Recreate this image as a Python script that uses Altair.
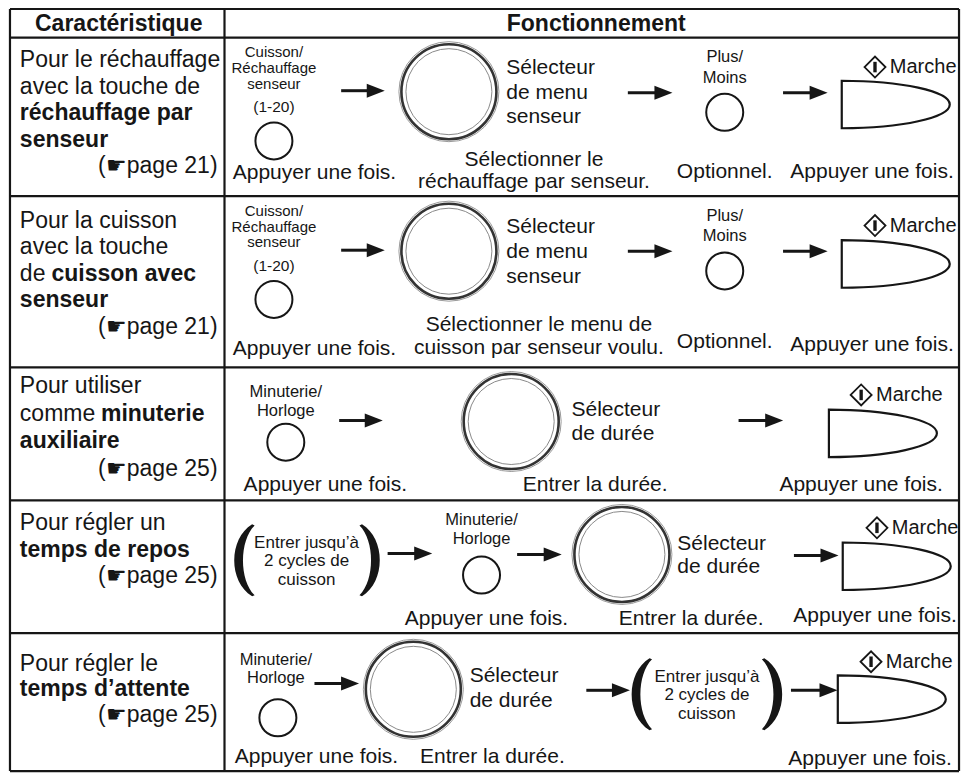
import altair as alt
import pandas as pd

# ------------------------------------------------------------------
# Content (texts of the table)
# ------------------------------------------------------------------
header_texts = ["Caractéristique", "Fonctionnement"]

# left column: (text, bold)
feature_row1 = [("Pour le réchauffage", False), ("avec la touche de", False),
                ("réchauffage par", True), ("senseur", True)]
feature_row2 = [("Pour la cuisson", False), ("avec la touche", False),
                ("de ", False), ("cuisson avec", True), ("senseur", True)]
feature_row3 = [("Pour utiliser", False), ("comme ", False), ("minuterie", True),
                ("auxiliaire", True)]
feature_row4 = [("Pour régler un", False), ("temps de repos", True)]
feature_row5 = [("Pour régler le", False), ("temps d\u2019attente", True)]
page_refs = ["(\u261bpage 21)", "(\u261bpage 21)", "(\u261bpage 25)",
             "(\u261bpage 25)", "(\u261bpage 25)"]

key_sensor = ["Cuisson/", "Réchauffage", "senseur"]
key_sensor_range = "(1-20)"
key_plus = ["Plus/", "Moins"]
key_timer = ["Minuterie/", "Horloge"]
dial_menu = ["Sélecteur", "de menu", "senseur"]
dial_time = ["Sélecteur", "de durée"]
start_label = "Marche"
press_once = "Appuyer une fois."
optional = "Optionnel."
enter_time = "Entrer la durée."
select_reheat = ["Sélectionner le", "réchauffage par senseur."]
select_cook = ["Sélectionner le menu de", "cuisson par senseur voulu."]
stages = ["Entrer jusqu\u2019à", "2 cycles de", "cuisson"]

# ------------------------------------------------------------------
# Layout (reference pixel coordinates)
# ------------------------------------------------------------------
TABLE = dict(left=5, right=965, top=5, bottom=779, split=222)
ROW_LINES = [34, 195, 369, 504, 639]

FEAT_X, FEAT_BOLD_OFFSET, PAGE_X = 15, {"de ": 47, "comme ": 97}, 215
feat_y = [[57, 84, 111, 138], [220, 247, 274, 274, 301], [388, 416, 416, 444],
          [527, 555], [670, 696]]
page_y = [164, 328, 472, 581, 722]

small_circles = [(272, 139), (272, 300), (284, 445), (482, 580), (276, 725),
                 (728, 110), (728, 271)]
dials = [(449, 89), (449, 251), (512, 424), (624, 559), (413, 696)]
buttons = [(901, 102), (901, 264), (888, 436), (902, 571), (897, 706)]
diamonds = [(880, 64), (880, 225), (866, 397), (882, 532), (876, 668)]
arrows = [(340, 384, 88), (630, 675, 90), (787, 832, 90),
          (340, 384, 250), (630, 675, 251), (787, 832, 251),
          (338, 382, 423), (742, 787, 423),
          (387, 432, 558), (518, 563, 559), (798, 843, 560),
          (313, 358, 690), (588, 632, 697), (795, 842, 697)]
parens_open = [(239, 565), (641, 701)]
parens_close = [(372, 565), (779, 701)]

FONT = "Liberation Sans, Arial, Helvetica, sans-serif"
INK = "#161616"

XS = alt.Scale(domain=[3, 967], nice=False, zero=False)
YS = alt.Scale(domain=[4, 781], nice=False, zero=False, reverse=True)


def pos(**kw):
    return dict(x=alt.X("x:Q", scale=XS, axis=None),
                y=alt.Y("y:Q", scale=YS, axis=None), **kw)


def text_layer(items, size, weight="normal", align="center", font=FONT):
    df = pd.DataFrame(items, columns=["t", "x", "y"])
    return alt.Chart(df).mark_text(fontSize=size, fontWeight=weight, align=align,
                                   baseline="middle", font=font, color=INK
                                   ).encode(**pos(text="t:N"))


def sym_layer(points, shape, size, stroke=INK, sw=2.0, filled=False):
    df = pd.DataFrame(points, columns=["x", "y"])
    if filled:
        mk = alt.Chart(df).mark_point(shape=shape, size=size, filled=True,
                                      color=stroke, opacity=1, strokeWidth=0)
    else:
        mk = alt.Chart(df).mark_point(shape=shape, size=size, filled=False,
                                      color=stroke, opacity=1, strokeWidth=sw)
    return mk.encode(**pos())


layers = []

# ---- grid -------------------------------------------------------
grid = [(TABLE["left"], TABLE["top"], TABLE["right"], TABLE["top"]),
        (TABLE["left"], TABLE["bottom"], TABLE["right"], TABLE["bottom"]),
        (TABLE["left"], TABLE["top"], TABLE["left"], TABLE["bottom"]),
        (TABLE["right"], TABLE["top"], TABLE["right"], TABLE["bottom"]),
        (TABLE["split"], TABLE["top"], TABLE["split"], TABLE["bottom"])]
grid += [(TABLE["left"], y, TABLE["right"], y) for y in ROW_LINES]
gdf = pd.DataFrame(grid, columns=["x", "y", "x2", "y2"])
layers.append(alt.Chart(gdf).mark_rule(color=INK, strokeWidth=2.2).encode(
    **pos(x2="x2:Q", y2="y2:Q")))

# ---- header -----------------------------------------------------
layers.append(text_layer([(header_texts[0], 115, 20), (header_texts[1], 598, 20)],
                         23, "bold"))

# ---- left column -----------------------------------------------
feat_norm, feat_bold = [], []
for rows, ys in zip([feature_row1, feature_row2, feature_row3, feature_row4,
                     feature_row5], feat_y):
    for (txt, bold), y in zip(rows, ys):
        x = FEAT_X
        if bold:
            prev = [t for (t, b), yy in zip(rows, ys) if yy == y and not b]
            if prev:
                x = FEAT_BOLD_OFFSET[prev[0]]
        (feat_bold if bold else feat_norm).append((txt, x, y))
layers.append(text_layer(feat_norm, 23, "normal", "left"))
layers.append(text_layer(feat_bold, 23, "bold", "left"))
layers.append(text_layer([(p, PAGE_X, y) for p, y in zip(page_refs, page_y)],
                         23, "normal", "right"))

# ---- right column texts ----------------------------------------
sensor = []
for yy in ([49, 65, 81], [210, 226, 242]):
    sensor += [(t, 272, y) for t, y in zip(key_sensor, yy)]
layers.append(text_layer(sensor, 15))
layers.append(text_layer([(key_sensor_range, 272, 105),
                          (key_sensor_range, 272, 266)], 15.5))

small = [(t, 728, y) for t, y in zip(key_plus, [54, 75])]
small += [(t, 728, y) for t, y in zip(key_plus, [215, 236])]
small += [(t, 284, y) for t, y in zip(key_timer, [394, 413])]
small += [(t, 482, y) for t, y in zip(key_timer, [524, 543])]
small += [(t, 274, y) for t, y in zip(key_timer, [666, 685])]
layers.append(text_layer(small, 16.5))

stage_items = [(t, 305, y) for t, y in zip(stages, [547, 566, 585])]
stage_items += [(t, 710, y) for t, y in zip(stages, [683, 702, 721])]
layers.append(text_layer(stage_items, 17))

main = [(press_once, 313, 172), (optional, 728, 171), (press_once, 877, 171),
        (select_reheat[0], 535, 158), (select_reheat[1], 535, 181),
        (press_once, 313, 350), (optional, 728, 343), (press_once, 877, 346),
        (select_cook[0], 540, 326), (select_cook[1], 540, 349),
        (press_once, 324, 488), (enter_time, 597, 488), (press_once, 866, 488),
        (press_once, 487, 625), (enter_time, 694, 625), (press_once, 880, 622),
        (press_once, 315, 765), (enter_time, 493, 765), (press_once, 875, 767)]
layers.append(text_layer(main, 21))

left_main = [(t, 507, y) for t, y in zip(dial_menu, [65, 90, 115])]
left_main += [(t, 507, y) for t, y in zip(dial_menu, [226, 252, 277])]
left_main += [(t, 573, y) for t, y in zip(dial_time, [412, 437])]
left_main += [(t, 680, y) for t, y in zip(dial_time, [548, 572])]
left_main += [(t, 470, y) for t, y in zip(dial_time, [682, 708])]
layers.append(text_layer(left_main, 21, align="left"))

layers.append(text_layer([(start_label, x + 15, y) for x, y in diamonds], 20,
                         align="left"))

# ---- symbols ----------------------------------------------------
layers.append(sym_layer(small_circles, "circle", 37 ** 2, sw=2.0))
layers.append(sym_layer(dials, "circle", 100 ** 2, stroke="#9a9a9a", sw=1.0))
layers.append(sym_layer(dials, "circle", 95 ** 2, stroke="#333333", sw=2.6))
layers.append(sym_layer(dials, "circle", 86 ** 2, stroke="#8a8a8a", sw=1.0))

BUTTON = ("M -1 -0.44 C 0.1046 -0.44 1 -0.243 1 0 "
          "C 1 0.243 0.1046 0.44 -1 0.44 Z")
layers.append(sym_layer(buttons, BUTTON, 108 ** 2, sw=2.2))

layers.append(sym_layer(diamonds, "diamond", 21 ** 2, sw=1.8))
BAR = "M -0.16 -0.5 L 0.16 -0.5 L 0.16 0.5 L -0.16 0.5 Z"
layers.append(sym_layer(diamonds, BAR, 21 ** 2, filled=True))

# arrows: shaft + head
adf = pd.DataFrame([(a, b - 12, y) for a, b, y in arrows], columns=["x", "x2", "y"])
layers.append(alt.Chart(adf).mark_rule(color=INK, strokeWidth=3).encode(
    **pos(x2="x2:Q")))
HEAD = "M 1 0 L -1 -0.78 L -1 0.78 Z"
layers.append(sym_layer([(b - 9, y) for a, b, y in arrows], HEAD, 18 ** 2,
                        filled=True))

PAREN_L = ("M 0.3 -1 C -0.36 -0.6 -0.36 0.6 0.3 1 L 0.37 0.97 "
           "C -0.06 0.55 -0.06 -0.55 0.37 -0.97 Z")
PAREN_R = ("M -0.3 -1 C 0.36 -0.6 0.36 0.6 -0.3 1 L -0.37 0.97 "
           "C 0.06 0.55 0.06 -0.55 -0.37 -0.97 Z")
layers.append(sym_layer(parens_open, PAREN_L, 72 ** 2, filled=True))
layers.append(sym_layer(parens_close, PAREN_R, 72 ** 2, filled=True))

chart = alt.layer(*layers).properties(
    width=953, height=765,
    autosize=alt.AutoSizeParams(type="none"),
    padding={"left": 0, "top": 0, "right": 0, "bottom": 0},
    background="white",
).configure_view(stroke=None)

chart.save("out.html", embed_options={"renderer": "svg", "actions": False})
